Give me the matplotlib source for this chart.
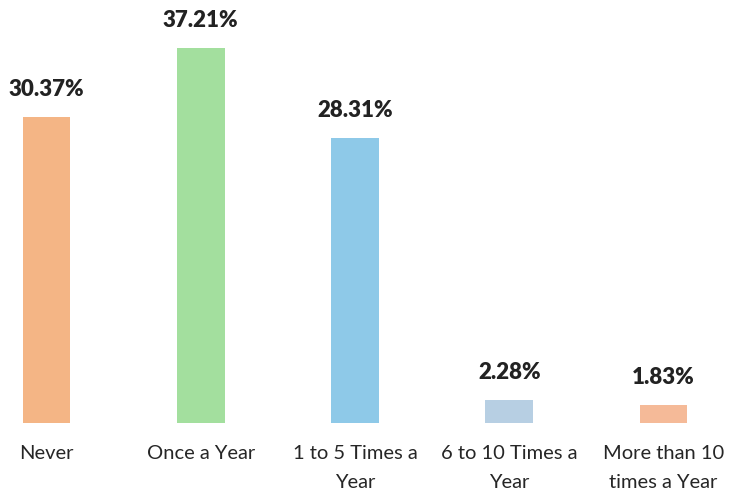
import matplotlib as mpl
mpl.use('Agg')
import matplotlib.pyplot as plt

categories = ['Never', 'Once a Year', '1 to 5 Times a\nYear', '6 to 10 Times a\nYear', 'More than 10\ntimes a Year']
values = [30.37, 37.21, 28.31, 2.28, 1.83]
colors = ['#F4B585', '#A3DF9E', '#8EC9E8', '#B7CFE3', '#F5BA98']

plt.rcParams['font.family'] = ['Lato', 'DejaVu Sans']

fig = plt.figure(figsize=(7.34, 4.93), dpi=100)
ax = fig.add_axes([0, 70 / 493, 1, 423 / 493])

x = list(range(len(values)))
bars = ax.bar(x, values, width=0.31, color=colors)

for xi, v in zip(x, values):
    ax.annotate('%.2f%%' % v, (xi, v), xytext=(0, 15), textcoords='offset points',
                ha='center', va='baseline', fontsize=16, fontweight='heavy', color='#222222')

ax.set_xlim(-0.3015, 4.457)
ax.set_ylim(0, 42)
ax.set_xticks(x)
ax.set_xticklabels(categories, fontsize=14.5, color='#262626', linespacing=1.85)
ax.tick_params(axis='x', length=0, pad=16)
ax.set_yticks([])
for s in ax.spines.values():
    s.set_visible(False)

fig.savefig('out.png', dpi=100)
